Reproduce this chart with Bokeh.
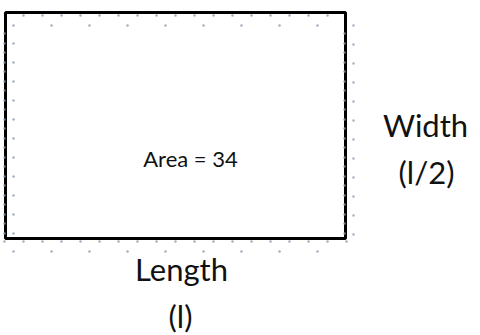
import numpy as np
from bokeh.plotting import figure
from bokeh.models import Range1d
from bokeh.core.properties import value
from bokeh.embed import file_html
from bokeh.resources import INLINE

# ---- data ----
area_value = 34
side_names = ["Length", "Width"]
side_exprs = ["l", "l/2"]

FONT = value("Lato")

p = figure(width=480, height=335, output_backend="svg", toolbar_location=None,
           x_range=Range1d(0, 480), y_range=Range1d(335, 0),
           min_border=0, outline_line_color=None)
p.axis.visible = False
p.grid.visible = False
p.background_fill_color = "white"
p.border_fill_color = "white"

# rectangle
L, T, R, B = 5, 12, 345, 238
p.quad(left=[L], right=[R], top=[T], bottom=[B], fill_color=None,
       line_color="black", line_width=3)

# decorative dotted guides
dot_col = "#8b9ab3"
xs1 = np.arange(23, R, 19.0)
xs2 = np.arange(13, R, 38.0)
ys1 = np.arange(43, B, 19.0)
ys_line = np.concatenate([np.arange(33, B, 19.0), np.arange(43, B, 19.0)])
ys_out = np.arange(25, B, 19.0)
xs_bot = np.arange(4, R + 2, 19.0)
dx = np.concatenate([xs1, xs2, np.full(len(ys1), 13.0),
                     np.full(len(ys_line), 4.0), np.full(len(ys_line), R - 1.0),
                     np.full(len(ys_out), 353.0), xs_bot, xs2])
dy = np.concatenate([np.full(len(xs1), 15.0), np.full(len(xs2), 25.0), ys1,
                     ys_line, ys_line, ys_out,
                     np.full(len(xs_bot), 241.0), np.full(len(xs2), 251.0)])
p.scatter(dx, dy, size=2.5, color=dot_col, alpha=0.8, line_color=None)

# labels
p.text(x=[190], y=[158], text=[f"Area = {area_value}"], text_font=FONT,
       text_font_size="22px", text_align="center", text_baseline="middle",
       text_color="#111111")
p.text(x=[425, 181], y=[124, 268], text=[side_names[1], side_names[0]],
       text_font=FONT, text_font_size="31px", text_align="center",
       text_baseline="middle", text_color="#111111")
p.text(x=[426, 180], y=[171, 315], text=[f"({side_exprs[1]})", f"({side_exprs[0]})"],
       text_font=FONT, text_font_size="31px", text_align="center",
       text_baseline="middle", text_color="#111111")

open("out.html", "w").write(file_html(p, INLINE))
